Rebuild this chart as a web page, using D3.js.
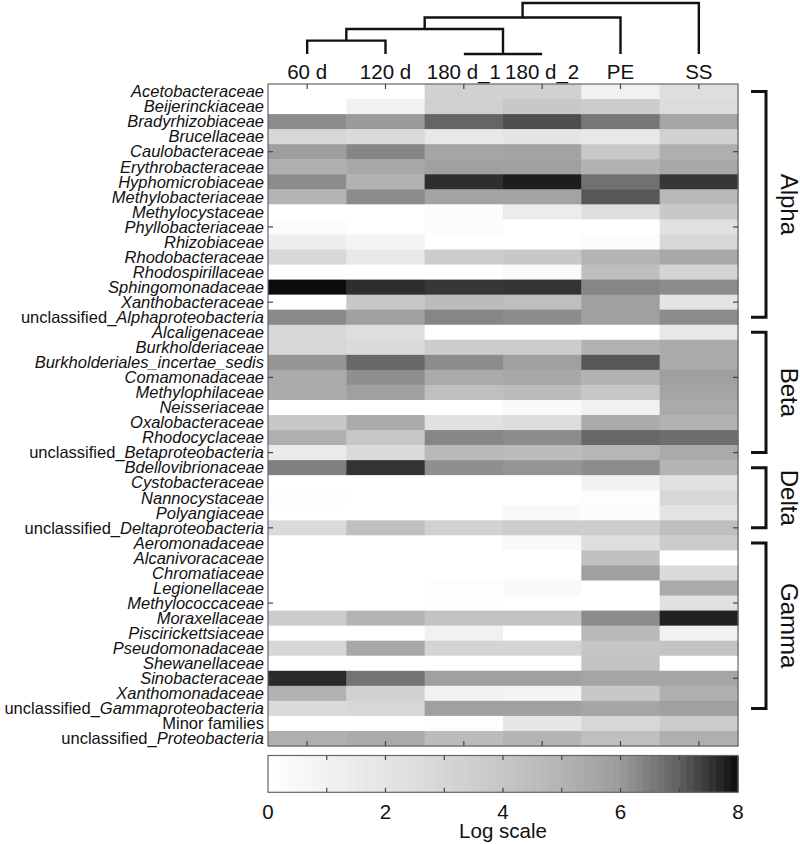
<!DOCTYPE html>
<html><head><meta charset="utf-8">
<script src="https://cdn.jsdelivr.net/npm/d3@7"></script>
<style>
html,body{margin:0;padding:0;background:#fff;}
svg{display:block;font-family:"Liberation Sans",Arial,sans-serif;}
</style></head>
<body>
<svg id="chart" width="800" height="844"></svg>
<script>
// ---------------- DATA ----------------
const columns = ["60 d","120 d","180 d_1","180 d_2","PE","SS"];
const families = [
 "Acetobacteraceae","Beijerinckiaceae","Bradyrhizobiaceae","Brucellaceae","Caulobacteraceae",
 "Erythrobacteraceae","Hyphomicrobiaceae","Methylobacteriaceae","Methylocystaceae","Phyllobacteriaceae",
 "Rhizobiaceae","Rhodobacteraceae","Rhodospirillaceae","Sphingomonadaceae","Xanthobacteraceae",
 "unclassified_Alphaproteobacteria",
 "Alcaligenaceae","Burkholderiaceae","Burkholderiales_incertae_sedis","Comamonadaceae","Methylophilaceae",
 "Neisseriaceae","Oxalobacteraceae","Rhodocyclaceae","unclassified_Betaproteobacteria",
 "Bdellovibrionaceae","Cystobacteraceae","Nannocystaceae","Polyangiaceae","unclassified_Deltaproteobacteria",
 "Aeromonadaceae","Alcanivoracaceae","Chromatiaceae","Legionellaceae","Methylococcaceae","Moraxellaceae",
 "Piscirickettsiaceae","Pseudomonadaceae","Shewanellaceae","Sinobacteraceae","Xanthomonadaceae",
 "unclassified_Gammaproteobacteria","Minor families","unclassified_Proteobacteria"
];
// log-scale abundance per sample (one array per column, same order as families)
const v60d  = [0,0,6.25,2.9,5.9,5.2,6.25,5.0,0,0.2,1.3,2.9,0,8.0,0,6.3,
               2.9,2.9,6.1,5.35,5.35,0,3.9,5.2,1.5,
               6.45,0,0.15,0,2.7,
               0,0,0,0,0,3.6,0,2.9,0,7.65,5.1,2.7,0,5.2];
const v120d = [0,1.1,6.0,2.7,6.35,5.5,5.1,6.25,0,0,0.85,1.7,0,7.6,3.9,5.8,
               2.4,2.7,6.85,6.2,5.8,0,5.4,4.0,2.7,
               7.55,0,0,0,4.4,
               0,0,0,0,0,5.0,0,5.5,0,6.65,3.3,2.9,0,5.4];
const v180d1= [3.3,3.4,6.9,1.7,5.6,5.8,7.6,5.7,0.2,0.2,0,3.6,0,7.5,4.55,6.35,
               0,3.6,6.25,5.35,4.4,0,2.2,6.35,4.7,
               6.2,0,0,0,3.3,
               0,0,0,0.15,0.15,4.15,1.1,3.1,0,5.8,1.1,5.8,0.15,4.55];
const v180d2= [3.3,3.9,7.2,2.0,5.7,5.8,7.8,5.7,1.4,0,0,3.9,0.5,7.55,4.4,6.25,
               0,3.6,5.8,5.5,4.55,0.5,2.6,6.25,4.55,
               6.1,0,0,0.5,3.6,
               0.5,0,0,0.5,0,4.15,0,3.1,0,5.8,0.75,5.8,1.85,5.0];
const vPE   = [1.1,3.6,6.6,1.7,3.9,5.1,6.7,7.1,2.4,0,0.2,5.0,4.4,6.35,5.8,5.8,
               0,5.1,7.1,5.1,4.0,1.1,5.4,6.85,4.9,
               6.25,1.0,0.15,0.2,3.6,
               2.4,4.3,5.8,0,0,6.25,4.7,4.0,4.15,5.6,3.9,5.6,2.9,4.4];
const vSS   = [2.4,2.6,5.6,3.3,5.2,5.5,7.5,4.8,3.9,2.2,2.9,5.5,3.1,6.25,2.0,6.25,
               1.7,5.35,5.4,5.8,5.6,5.4,5.1,6.75,5.4,
               5.0,2.2,2.9,2.0,4.4,
               3.6,0,2.7,5.4,2.2,7.75,1.0,4.15,0,5.6,5.2,5.8,3.6,5.2];
const seriesValues = [v60d, v120d, v180d1, v180d2, vPE, vSS];
// class groups (first and last family)
const groupNames = ["Alpha","Beta","Delta","Gamma"];
const groupFirst = ["Acetobacteraceae","Alcaligenaceae","Bdellovibrionaceae","Aeromonadaceae"];
const groupLast  = ["unclassified_Alphaproteobacteria","unclassified_Betaproteobacteria","unclassified_Deltaproteobacteria","unclassified_Gammaproteobacteria"];
// dendrogram linkage: [left, right, height]; ids 0-5 leaves, 6+ clusters
const linkLeft   = [2, 0, 7, 8, 9];
const linkRight  = [3, 1, 6, 4, 5];
const linkHeight = [0, 1.05, 1.96, 2.86, 4.0];
const colorTicks = [0,2,4,6,8];
// colormap anchors (value -> gray level)
const cmapValues = [0,1,2,3,4,5,6,6.5,7,7.5,8];
const cmapGray   = [255,242,228,214,198,180,155,125,95,55,12];

// ---------------- LAYOUT ----------------
const svg = d3.select("#chart");
const L = 268, R = 738, T = 84, B = 746;
const x = d3.scaleBand().domain(columns).range([L, R]);
const y = d3.scaleBand().domain(families).range([T, B]);
const grayScale = d3.scaleLinear().domain(cmapValues).range(cmapGray).clamp(true);
const color = v => { const g = Math.round(grayScale(v)); return `rgb(${g},${g},${g})`; };

// cells
const cells = [];
columns.forEach((c, ci) => families.forEach((f, fi) => cells.push({c, f, v: seriesValues[ci][fi]})));
svg.append("g").selectAll("rect").data(cells).join("rect")
  .attr("x", d => x(d.c)).attr("y", d => y(d.f))
  .attr("width", x.bandwidth() + 0.5).attr("height", y.bandwidth() + 0.5)
  .attr("fill", d => color(d.v));

// frame
svg.append("rect").attr("x", L).attr("y", T).attr("width", R - L).attr("height", B - T)
  .attr("fill", "none").attr("stroke", "#666").attr("stroke-width", 1.2);

// inner ticks: columns (top & bottom)
const tk = svg.append("g").attr("stroke", "#444").attr("stroke-width", 1.2);
columns.forEach(c => {
  const cx = x(c) + x.bandwidth() / 2;
  tk.append("line").attr("x1", cx).attr("x2", cx).attr("y1", T).attr("y2", T + 5);
  tk.append("line").attr("x1", cx).attr("x2", cx).attr("y1", B).attr("y2", B - 5);
});
// rows every 5
families.forEach((f, i) => {
  if ((i + 1) % 5 !== 0) return;
  const cy = y(f) + y.bandwidth() / 2;
  tk.append("line").attr("x1", L).attr("x2", L + 5).attr("y1", cy).attr("y2", cy);
  tk.append("line").attr("x1", R).attr("x2", R - 5).attr("y1", cy).attr("y2", cy);
});

// row labels
const rl = svg.append("g").attr("font-size", 16.5).attr("fill", "#111");
families.forEach(f => {
  const t = rl.append("text").attr("x", 264).attr("y", y(f) + y.bandwidth() / 2)
    .attr("dy", "0.35em").attr("text-anchor", "end");
  if (f.startsWith("unclassified_")) {
    t.append("tspan").text("unclassified_");
    t.append("tspan").attr("font-style", "italic").text(f.slice(13));
  } else if (f === "Minor families") {
    t.text(f);
  } else {
    t.attr("font-style", "italic").text(f);
  }
});

// column labels
svg.append("g").selectAll("text").data(columns).join("text")
  .attr("x", c => x(c) + x.bandwidth() / 2).attr("y", 78.5)
  .attr("text-anchor", "middle").attr("font-size", 20.5).attr("fill", "#111")
  .text(c => c);

// dendrogram
const hy = d3.scaleLinear().domain([0, d3.max(linkHeight)]).range([54, 3]);
const nodeX = columns.map(c => x(c) + x.bandwidth() / 2);
const nodeH = columns.map(() => 0);
const dg = svg.append("g").attr("stroke", "#111").attr("stroke-width", 2.4).attr("fill", "none");
linkLeft.forEach((a, i) => {
  const b = linkRight[i], h = linkHeight[i];
  const xa = nodeX[a], xb = nodeX[b];
  const pts = [[xa, hy(nodeH[a])], [xa, hy(h)], [xb, hy(h)], [xb, hy(nodeH[b])]];
  dg.append("path").attr("d", d3.line()(pts));
  nodeX.push((xa + xb) / 2);
  nodeH.push(h);
});

// group brackets
const bg = svg.append("g");
groupNames.forEach((g, i) => {
  const y1 = y(groupFirst[i]) + y.bandwidth() / 2;
  const y2 = y(groupLast[i]) + y.bandwidth() / 2;
  bg.append("path").attr("d", d3.line()([[751, y1], [766, y1], [766, y2], [751, y2]]))
    .attr("fill", "none").attr("stroke", "#111").attr("stroke-width", 3);
  const ym = (y1 + y2) / 2;
  bg.append("text").attr("transform", `translate(789,${ym}) rotate(90)`)
    .attr("text-anchor", "middle").attr("dy", "0.35em")
    .attr("font-size", 24).attr("fill", "#111").text(g);
});

// colorbar
const cbT = 755.5, cbB = 792.3;
const cx = d3.scaleLinear().domain([0, 8]).range([L, R]);
const nSteps = 64;
const steps = d3.range(nSteps);
svg.append("g").selectAll("rect").data(steps).join("rect")
  .attr("x", i => cx(i * 8 / nSteps)).attr("y", cbT)
  .attr("width", (R - L) / nSteps + 0.6).attr("height", cbB - cbT)
  .attr("fill", i => color((i + 0.5) * 8 / nSteps));
svg.append("rect").attr("x", L).attr("y", cbT).attr("width", R - L).attr("height", cbB - cbT)
  .attr("fill", "none").attr("stroke", "#666").attr("stroke-width", 1.2);
const ct = svg.append("g").attr("stroke", "#444").attr("stroke-width", 1.2);
d3.range(1, 8).forEach(v => {
  ct.append("line").attr("x1", cx(v)).attr("x2", cx(v)).attr("y1", cbT).attr("y2", cbT + 4.5);
  ct.append("line").attr("x1", cx(v)).attr("x2", cx(v)).attr("y1", cbB).attr("y2", cbB - 4.5);
});
svg.append("g").selectAll("text").data(colorTicks).join("text")
  .attr("x", v => cx(v)).attr("y", 818.5).attr("text-anchor", "middle")
  .attr("font-size", 20.5).attr("fill", "#111").text(v => v);
svg.append("text").attr("x", (L + R) / 2).attr("y", 837.5).attr("text-anchor", "middle")
  .attr("font-size", 20.5).attr("fill", "#111").text("Log scale");
</script>
</body></html>
